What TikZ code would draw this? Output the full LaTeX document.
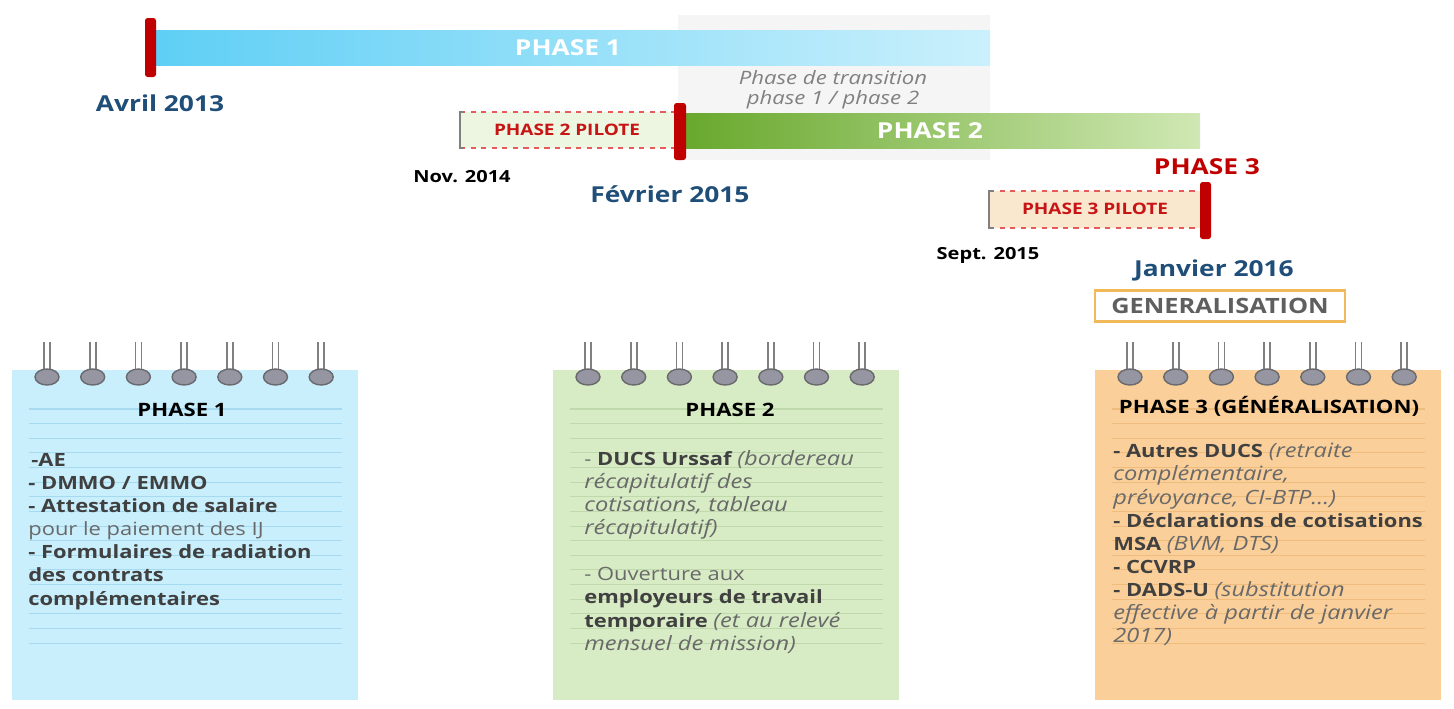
\documentclass[tikz,border=0pt]{standalone}
\usepackage{fontspec}
\setmainfont{Open Sans}[FakeStretch=1.2]
\setsansfont{Open Sans}[FakeStretch=1.2]
\definecolor{markred}{RGB}{192,0,0}
\definecolor{pilotred}{RGB}{200,20,20}
\definecolor{dashred}{RGB}{230,90,90}
\definecolor{dateblue}{RGB}{31,78,121}
\definecolor{transgrey}{RGB}{245,245,245}
\definecolor{transtext}{RGB}{128,128,128}
\definecolor{phaseonestart}{RGB}{95,207,245}
\definecolor{phaseoneend}{RGB}{202,240,252}
\definecolor{phasetwostart}{RGB}{104,168,44}
\definecolor{phasetwoend}{RGB}{208,232,180}
\definecolor{pilottwofill}{RGB}{236,246,224}
\definecolor{pilotthreefill}{RGB}{250,232,206}
\definecolor{genorange}{RGB}{242,185,90}
\definecolor{gentext}{RGB}{95,95,95}
\definecolor{nbblue}{RGB}{201,238,252}
\definecolor{nbgreen}{RGB}{215,235,196}
\definecolor{nborange}{RGB}{250,207,153}
\definecolor{lineblue}{RGB}{165,218,240}
\definecolor{linegreen}{RGB}{192,217,172}
\definecolor{lineorange}{RGB}{238,188,125}
\definecolor{ringfill}{RGB}{150,150,162}
\definecolor{ringdraw}{RGB}{105,105,110}
\definecolor{bodydark}{RGB}{64,64,64}
\definecolor{bodygrey}{RGB}{105,105,105}
\newcommand{\nbbold}[1]{{\bfseries\color{bodydark}#1}}
\newcommand{\nbital}[1]{{\fontsize{11.2}{13.15}\selectfont\itshape\color{bodygrey}#1}}
\newcommand{\nbplain}[1]{{\color{bodygrey}#1}}

\begin{document}
\begin{tikzpicture}[x=0.02cm, y=-0.02cm, font=\sffamily]
    % Styles for the timeline and the notebooks
    \tikzstyle{marker} = [fill=markred, rounded corners=1.5pt]
    \tikzstyle{bartext} = [text=white, font=\sffamily\bfseries\fontsize{12.5}{14}\selectfont]
    \tikzstyle{bigdate} = [text=dateblue, font=\sffamily\bfseries\fontsize{12.5}{14}\selectfont]
    \tikzstyle{smalldate} = [text=black, font=\sffamily\bfseries\fontsize{9.5}{11}\selectfont]
    \tikzstyle{pilottext} = [text=pilotred, font=\sffamily\bfseries\fontsize{9}{11}\selectfont]
    \tikzstyle{nbtitle} = [text=black, font=\sffamily\bfseries\fontsize{10.5}{12}\selectfont]
    \tikzstyle{nbbody} = [anchor=north west, inner sep=0pt, align=left, font=\sffamily\fontsize{10.4}{13.15}\selectfont]

    \useasboundingbox (0,0) rectangle (1454,708);

    % Transition background
    \fill[transgrey] (678,15) rectangle (990,160);
    \node[text=transtext, font=\sffamily\itshape\fontsize{10.5}{11.5}\selectfont, align=center] (transition) at (833,90) {Phase de transition\\phase 1 / phase 2};

    % Phase 1 bar
    \shade[left color=phaseonestart, right color=phaseoneend] (155,30) rectangle (990,65);
    \node[bartext] (phaseonebar) at (568,48) {PHASE 1};
    \fill[marker] (145,18) rectangle (156,77);
    \node[bigdate] (avril) at (160,103) {Avril 2013};

    % Phase 2 pilot box and bar
    \fill[pilottwofill] (460,112) rectangle (678,148);
    \draw[dashred, dashed, thick] (460,112) -- (678,112) (460,148) -- (678,148);
    \draw[gray, line width=1.2pt] (464,112) -- (460,112) -- (460,148) -- (464,148);
    \node[pilottext] (pilottwo) at (567,130) {PHASE 2 PILOTE};
    \shade[left color=phasetwostart, right color=phasetwoend] (683,113) rectangle (1200,148);
    \node[bartext] (phasetwobar) at (930,131) {PHASE 2};
    \fill[marker] (674,103) rectangle (686,160);
    \node[smalldate] (nov) at (462,177) {Nov. 2014};
    \node[bigdate] (fevrier) at (670,194) {Février 2015};

    % Phase 3 pilot box
    \node[text=markred, font=\sffamily\bfseries\fontsize{12.5}{14}\selectfont] (phasethree) at (1207,167) {PHASE 3};
    \fill[pilotthreefill] (989,191) rectangle (1202,228);
    \draw[dashred, dashed, thick] (989,191) -- (1202,191) (989,228) -- (1202,228);
    \draw[gray, line width=1.2pt] (993,191) -- (989,191) -- (989,228) -- (993,228);
    \node[pilottext] (pilotthree) at (1095,209) {PHASE 3 PILOTE};
    \fill[marker] (1200,182) rectangle (1211,239);
    \node[smalldate] (sept) at (988,255) {Sept. 2015};
    \node[bigdate] (janvier) at (1214,270) {Janvier 2016};
    \node[draw=genorange, line width=1.4pt, fill=white, text=gentext, minimum width=5cm, minimum height=0.62cm, font=\sffamily\bfseries\fontsize{12}{14}\selectfont] (general) at (1220,306) {GENERALISATION};

    % Notebooks: paper, ruled lines and rings
    \foreach \nx/\ncol/\lcol in {12/nbblue/lineblue, 553/nbgreen/linegreen, 1095/nborange/lineorange} {
        \fill[\ncol] (\nx,370) rectangle ++(346,330);
        \foreach \k in {0,...,16}
            \draw[\lcol, line width=0.6pt] (\nx+17,409+\k*14.63) -- (\nx+330,409+\k*14.63);
        \foreach \k in {0,...,6} {
            \draw[gray, line width=1pt] (\nx+32+\k*45.7,342) -- (\nx+32+\k*45.7,372);
            \draw[gray, line width=1pt] (\nx+38+\k*45.7,342) -- (\nx+38+\k*45.7,372);
            \filldraw[fill=ringfill, draw=ringdraw, line width=0.8pt] (\nx+35+\k*45.7,377) ellipse [x radius=12, y radius=8];
        }
    }

    % Notebook 1
    \node[nbtitle] (nbonetitle) at (182,410) {PHASE 1};
    \node[nbbody] (nbonebody) at (28,453) {%
        \nbbold{\,-AE}\\
        \nbbold{- DMMO / EMMO}\\
        \nbbold{- Attestation de salaire}\\
        \nbplain{pour le paiement des IJ}\\
        \nbbold{- Formulaires de radiation}\\
        \nbbold{des contrats}\\
        \nbbold{complémentaires}};

    % Notebook 2
    \node[nbtitle] (nbtwotitle) at (730,410) {PHASE 2};
    \node[nbbody] (nbtwobody) at (584,450) {%
        \nbplain{- }\nbbold{DUCS Urssaf} \nbital{(bordereau}\\
        \nbital{récapitulatif des}\\
        \nbital{cotisations, tableau}\\
        \nbital{récapitulatif)}\\[13.15pt]
        \nbplain{- Ouverture aux}\\
        \nbbold{employeurs de travail}\\
        \nbbold{temporaire} \nbital{(et au relevé}\\
        \nbital{mensuel de mission)}};

    % Notebook 3
    \node[nbtitle] (nbthreetitle) at (1269,406) {PHASE 3 (GÉNÉRALISATION)};
    \node[nbbody] (nbthreebody) at (1113,443) {%
        \nbbold{- Autres DUCS} \nbital{(retraite}\\
        \nbital{complémentaire,}\\
        \nbital{prévoyance, CI-BTP...)}\\
        \nbbold{- Déclarations de cotisations}\\
        \nbbold{MSA} \nbital{(BVM, DTS)}\\
        \nbbold{- CCVRP}\\
        \nbbold{- DADS-U} \nbital{(substitution}\\
        \nbital{effective à partir de janvier}\\
        \nbital{2017)}};
\end{tikzpicture}
\end{document}
